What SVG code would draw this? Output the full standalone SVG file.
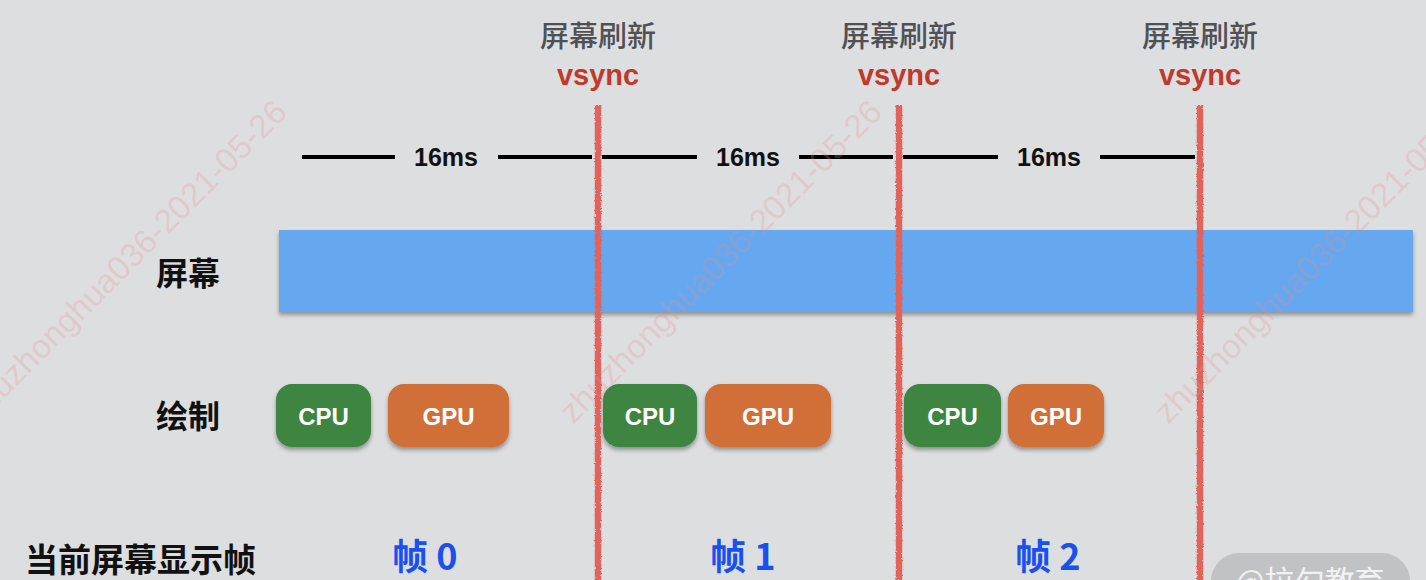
<svg xmlns="http://www.w3.org/2000/svg" width="1426" height="580" viewBox="0 0 1426 580">
<defs>
<filter id="sh" x="-20%" y="-20%" width="140%" height="150%">
<feDropShadow dx="0" dy="3" stdDeviation="2" flood-color="#000" flood-opacity="0.35"/>
</filter>
<filter id="rough" x="-100%" y="0%" width="300%" height="100%">
<feTurbulence type="fractalNoise" baseFrequency="0.6" numOctaves="2" seed="3" result="n"/>
<feDisplacementMap in="SourceGraphic" in2="n" scale="3" xChannelSelector="R" yChannelSelector="G"/>
</filter>
<style>
.cn{font-family:"Noto Sans CJK SC","Liberation Sans",sans-serif;}
.hd{font-size:29px;fill:#4f5155;font-weight:500;text-anchor:middle;}
.vs{font-family:"Liberation Sans",Arial,sans-serif;font-size:29px;font-weight:bold;fill:#c0392b;text-anchor:middle;}
.ms{font-family:"Liberation Sans",Arial,sans-serif;font-size:25px;font-weight:bold;fill:#111;text-anchor:middle;}
.lbl{font-size:32px;font-weight:bold;fill:#111;}
.bt{font-family:"Liberation Sans",Arial,sans-serif;font-size:24px;font-weight:bold;fill:#fff;text-anchor:middle;}
.fr{font-family:"Noto Sans CJK SC","Liberation Sans",sans-serif;font-size:36px;font-weight:bold;fill:#1a4ff0;}
.cpu{fill:#3e853f;}
.gpu{fill:#d07038;}
.seg{stroke:#000;stroke-width:4;}
.vl{stroke:#e0645c;stroke-width:6.5;}
.wm{font-family:"Liberation Sans",Arial,sans-serif;font-size:33.5px;fill:#e88c8c;opacity:0.25;}
</style>
</defs>
<rect x="0" y="0" width="1426" height="580" fill="#dcdee0"/>

<g id="headers">
<text class="cn hd" x="598" y="47">屏幕刷新</text>
<text class="vs" x="598" y="85">vsync</text>
<text class="cn hd" x="899" y="47">屏幕刷新</text>
<text class="vs" x="899" y="85">vsync</text>
<text class="cn hd" x="1200" y="47">屏幕刷新</text>
<text class="vs" x="1200" y="85">vsync</text>
</g>

<g id="timeline">
<line class="seg" x1="302" y1="157" x2="395" y2="157"/>
<line class="seg" x1="498" y1="157" x2="592" y2="157"/>
<line class="seg" x1="602" y1="157" x2="697" y2="157"/>
<line class="seg" x1="799" y1="157" x2="893" y2="157"/>
<line class="seg" x1="903" y1="157" x2="998" y2="157"/>
<line class="seg" x1="1100" y1="157" x2="1195" y2="157"/>
<text class="ms" x="446" y="166">16ms</text>
<text class="ms" x="748" y="166">16ms</text>
<text class="ms" x="1049" y="166">16ms</text>
</g>

<g id="labels">
<text class="cn lbl" x="156" y="285">屏幕</text>
<text class="cn lbl" x="156" y="428">绘制</text>
<text class="cn lbl" x="25" y="572" style="font-size:33px">当前屏幕显示帧</text>
</g>

<g id="screen">
<rect x="279" y="230" width="1134" height="82" fill="#66a8f0" filter="url(#sh)"/>
</g>

<g id="draw0">
<rect class="cpu" x="276" y="384" width="95" height="63" rx="16" filter="url(#sh)"/>
<text class="bt" x="323.5" y="425">CPU</text>
<rect class="gpu" x="388" y="384" width="121" height="63" rx="16" filter="url(#sh)"/>
<text class="bt" x="448.5" y="425">GPU</text>
</g>
<g id="draw1">
<rect class="cpu" x="603" y="384" width="94" height="63" rx="16" filter="url(#sh)"/>
<text class="bt" x="650" y="425">CPU</text>
<rect class="gpu" x="705" y="384" width="126" height="63" rx="16" filter="url(#sh)"/>
<text class="bt" x="768" y="425">GPU</text>
</g>
<g id="draw2">
<rect class="cpu" x="904" y="384" width="97" height="63" rx="16" filter="url(#sh)"/>
<text class="bt" x="952.5" y="425">CPU</text>
<rect class="gpu" x="1008" y="384" width="96" height="63" rx="16" filter="url(#sh)"/>
<text class="bt" x="1056" y="425">GPU</text>
</g>

<g id="frames">
<text class="fr" x="392" y="570">帧 0</text>
<text class="fr" x="710" y="570">帧 1</text>
<text class="fr" x="1015" y="570">帧 2</text>
</g>

<g id="connectors" filter="url(#rough)">
<line class="vl" x1="598" y1="105" x2="598" y2="580"/>
<line class="vl" x1="899" y1="105" x2="899" y2="580"/>
<line class="vl" x1="1200" y1="105" x2="1200" y2="580"/>
</g>

<g id="watermark">
<text class="wm" transform="translate(-22,425) rotate(-45)">zhuzhonghua036-2021-05-26</text>
<text class="wm" transform="translate(573,425) rotate(-45)">zhuzhonghua036-2021-05-26</text>
<text class="wm" transform="translate(1168,425) rotate(-45)">zhuzhonghua036-2021-05-26</text>
<rect x="1211" y="553" width="199" height="60" rx="28" fill="#c1c2c4"/>
<text x="1236" y="592" style="font-family:'Noto Sans CJK SC','Liberation Sans',sans-serif;font-size:30px;fill:#f2f2f2">@拉勾教育</text>
</g>
</svg>
